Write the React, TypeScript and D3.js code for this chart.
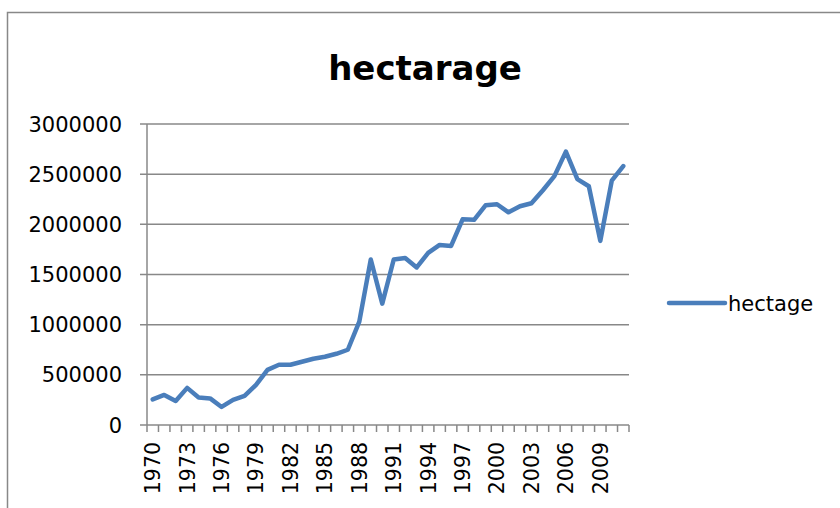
import React from 'react';
import * as d3 from 'd3';

// hectarage by year
const years = d3.range(1970, 2012).map(String);
const hectage = [
  255000, 300000, 240000, 370000, 275000, 265000, 180000, 250000, 290000, 400000,
  550000, 600000, 600000, 630000, 660000, 680000, 710000, 750000, 1030000, 1650000,
  1210000, 1650000, 1665000, 1570000, 1715000, 1795000, 1785000, 2050000, 2045000, 2190000,
  2200000, 2120000, 2180000, 2210000, 2340000, 2480000, 2725000, 2450000, 2380000, 1835000,
  2435000, 2580000,
];
const yTicks = [0, 500000, 1000000, 1500000, 2000000, 2500000, 3000000];
const seriesName = 'hectage';
const chartTitle = 'hectarage';

const W = 840;
const H = 508;
const plot = { left: 147, right: 629, top: 124, bottom: 425 };
const gridColor = '#888888';
const lineColor = '#4a7ebb';
const font = '"DejaVu Sans", sans-serif';

const App = () => {
  const x = d3.scaleBand().domain(years).range([plot.left, plot.right]).padding(0);
  const y = d3.scaleLinear().domain([0, 3000000]).range([plot.bottom, plot.top]);
  const cx = (yr: string) => (x(yr) as number) + x.bandwidth() / 2;

  const line = d3
    .line<number>()
    .x((d, i) => cx(years[i]))
    .y(d => y(d));

  const boundaries = years.map(yr => x(yr) as number).concat([plot.right]);

  return (
    <svg
      width={W}
      height={H}
      style={{ position: 'absolute', left: 0, top: 0, background: '#fff' }}
      fontFamily={font}
    >
      <rect x={7.5} y={12.5} width={W} height={H} fill="#fff" stroke={gridColor} strokeWidth={1.5} />

      <text x={425} y={80} textAnchor="middle" fontSize={34} fontWeight="bold" fill="#000">
        {chartTitle}
      </text>

      {/* gridlines + y axis */}
      {yTicks.map(t => (
        <g key={t}>
          <line x1={140} x2={plot.right} y1={y(t)} y2={y(t)} stroke={gridColor} strokeWidth={1.5} />
          <text x={122} y={y(t)} dy="0.36em" textAnchor="end" fontSize={21} fill="#000">
            {t}
          </text>
        </g>
      ))}
      <line x1={plot.left} x2={plot.left} y1={plot.top} y2={plot.bottom} stroke={gridColor} strokeWidth={1.5} />

      {/* x axis ticks */}
      {boundaries.map((bx, i) => (
        <line key={i} x1={bx} x2={bx} y1={plot.bottom} y2={plot.bottom + 7} stroke={gridColor} strokeWidth={1.5} />
      ))}
      {years
        .filter((_, i) => i % 3 === 0)
        .map(yr => (
          <text
            key={yr}
            transform={`translate(${cx(yr)},${plot.bottom + 17}) rotate(-90)`}
            dy="0.36em"
            textAnchor="end"
            fontSize={20.5}
            fill="#000"
          >
            {yr}
          </text>
        ))}

      <path
        d={line(hectage) || ''}
        fill="none"
        stroke={lineColor}
        strokeWidth={4.5}
        strokeLinejoin="round"
        strokeLinecap="round"
      />

      {/* legend */}
      <line x1={669} x2={725} y1={303} y2={303} stroke={lineColor} strokeWidth={4.5} strokeLinecap="round" />
      <text x={728} y={303} dy="0.36em" fontSize={21} fill="#000">
        {seriesName}
      </text>
    </svg>
  );
};

export default App;
